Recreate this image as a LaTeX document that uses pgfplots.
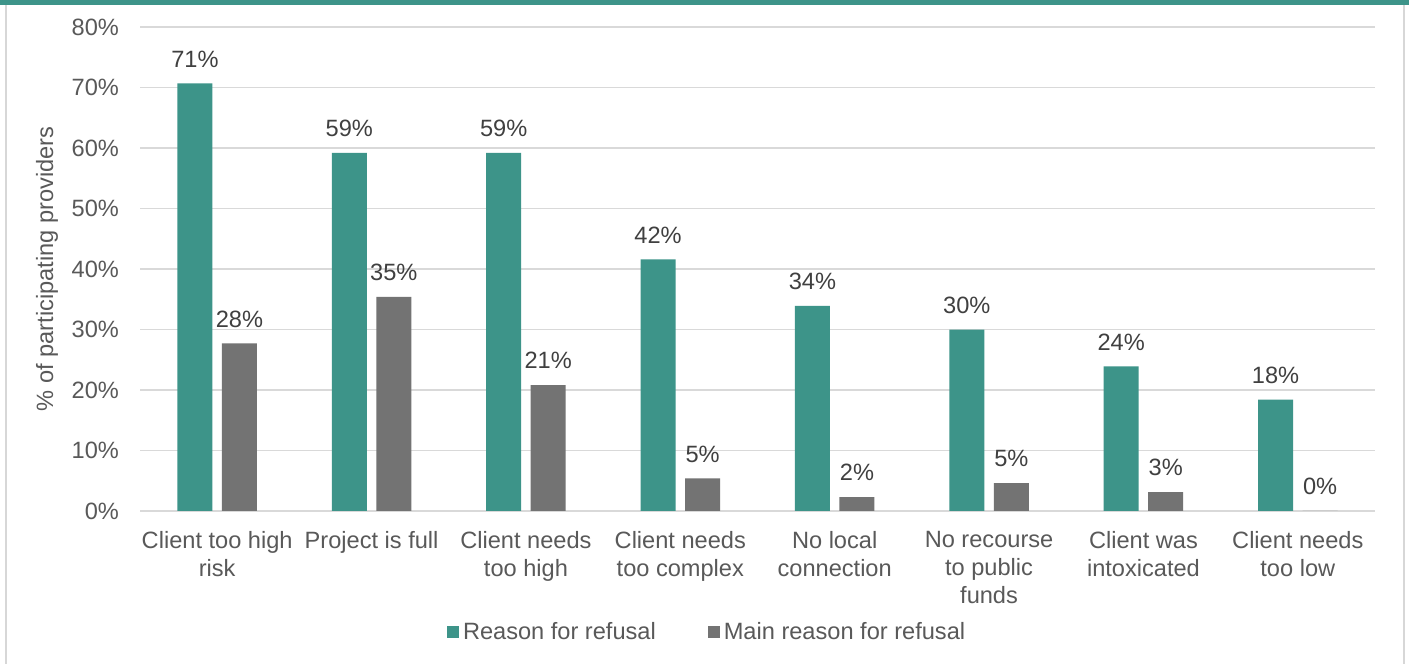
\documentclass[border=0pt]{standalone}
\usepackage{pgfplots}
\pgfplotsset{compat=1.18}
\usepackage{fontspec}
\setmainfont{Liberation Sans}
\definecolor{refteal}{RGB}{61,148,137}
\definecolor{refgray}{RGB}{115,115,115}
\definecolor{gridgray}{RGB}{217,217,217}
\definecolor{framegray}{RGB}{215,215,215}
\definecolor{textgray}{RGB}{89,89,89}
\definecolor{labelgray}{RGB}{64,64,64}
\newcommand{\chartfont}{\fontsize{11.8}{14}\selectfont}

\begin{document}
\begin{tikzpicture}
\useasboundingbox (0,0) rectangle (704.5pt,332pt);
\fill[white] (0,0) rectangle (704.5pt,332pt);
% outer frame and teal band on top
\draw[framegray, line width=1.2pt] (3pt,-2pt) -- (3pt,330pt) -- (702pt,330pt) -- (702pt,-2pt);
\fill[refteal] (0,329.5pt) rectangle (704.5pt,332pt);

\begin{axis}[
  at={(70pt,76.5pt)}, anchor=south west,
  scale only axis, width=617.5pt, height=242pt,
  xmin=-0.5, xmax=7.5, ymin=0, ymax=80,
  ybar=4.75pt, bar width=17.5pt,
  axis x line*=bottom, axis y line*=left,
  x axis line style={gridgray, line width=0.9pt},
  y axis line style={draw=none},
  major tick length=0pt,
  ymajorgrids=true,
  grid style={gridgray, line width=0.9pt},
  ytick={0,10,...,80},
  yticklabel={\pgfmathprintnumber{\tick}\%},
  /pgf/number format/assume math mode=true,
  yticklabel style={font=\chartfont, text=textgray, xshift=-7pt},
  xtick={0,...,7},
  xticklabels={{Client too high\\risk},{Project is full},{Client needs\\too high},{Client needs\\too complex},{No local\\connection},{No recourse\\to public\\funds},{Client was\\intoxicated},{Client needs\\too low}},
  xticklabel style={font=\chartfont, text=textgray, align=center, yshift=-6.5pt},
  ylabel={\% of participating providers},
  every axis y label/.style={at={(axis description cs:0,0.5)}, rotate=90, anchor=center, yshift=46.5pt, font=\chartfont, text=textgray},
  nodes near coords={\pgfmathprintnumber[fixed,precision=0]{\pgfplotspointmeta}\%},
  every node near coord/.append style={font=\chartfont, text=labelgray, yshift=4.5pt},
  legend columns=2,
  legend style={at={(0.46,0)}, anchor=center, yshift=-60.5pt, draw=none, fill=none,
    font=\chartfont, text=textgray,
    /tikz/every even column/.append style={column sep=24pt}},
  legend image code/.code={\path[#1, draw=none] (0pt,-3pt) rectangle (6pt,3pt);},
]
\addplot[fill=refteal, draw=none] coordinates {
  (0,70.7) (1,59.2) (2,59.2) (3,41.6) (4,33.9) (5,30.0) (6,23.9) (7,18.4)
};
\addlegendentry{Reason for refusal}
\addplot[fill=refgray, draw=none] coordinates {
  (0,27.7) (1,35.4) (2,20.8) (3,5.4) (4,2.3) (5,4.6) (6,3.1) (7,0)
};
\addlegendentry{Main reason for refusal}
\end{axis}
\end{tikzpicture}
\end{document}
